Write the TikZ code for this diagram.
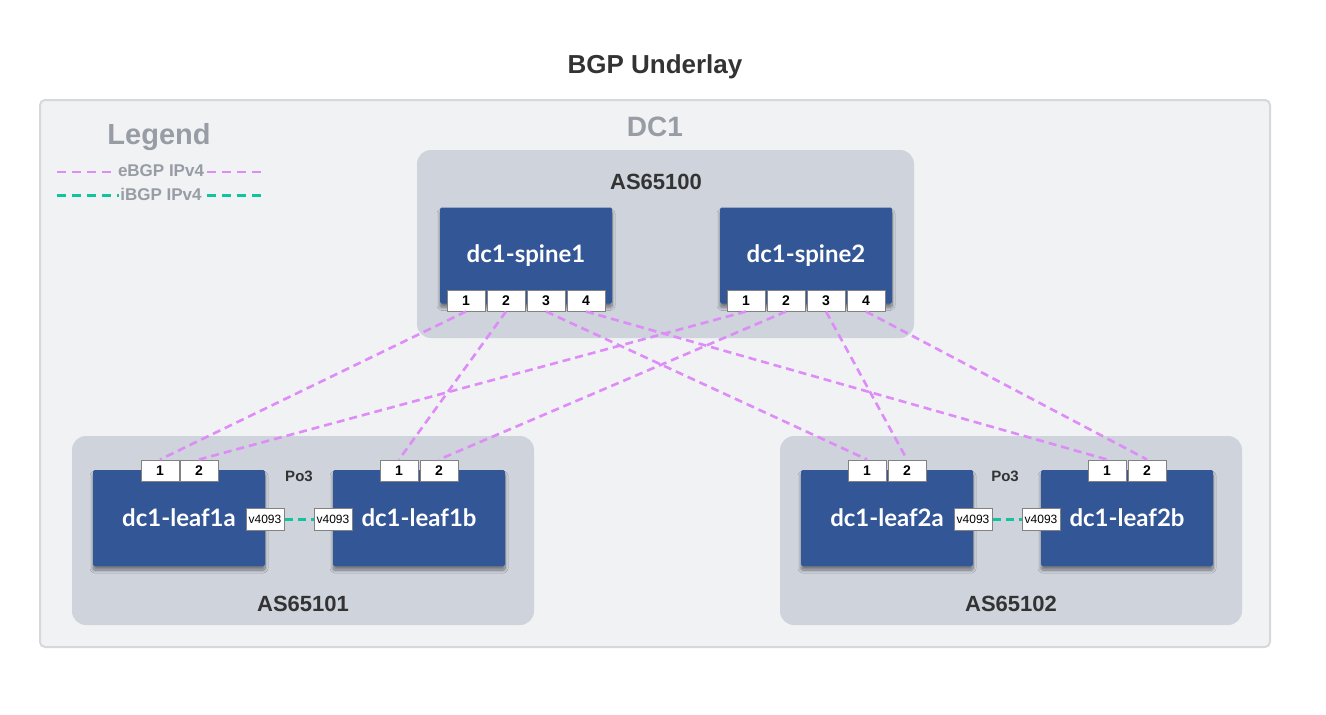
\documentclass[tikz,border=0pt]{standalone}
\usepackage{fontspec}
\setmainfont{Liberation Sans}
\newfontfamily\latofont{Lato}
\usetikzlibrary{shadows.blur}
\definecolor{canvasgray}{RGB}{241,242,244}
\definecolor{framegray}{RGB}{214,216,220}
\definecolor{asgray}{RGB}{206,211,220}
\definecolor{devblue}{RGB}{51,86,150}
\definecolor{portgray}{RGB}{130,130,130}
\definecolor{softgray}{RGB}{151,156,165}
\definecolor{darktext}{RGB}{51,51,51}
\definecolor{ebgpcol}{RGB}{222,140,248}
\definecolor{ibgpcol}{RGB}{16,196,160}

\begin{document}
\begin{tikzpicture}[x=1pt,y=-1pt]
\tikzset{group/.style={fill=asgray,rounded corners=14pt,inner sep=0pt}}
\tikzset{aslabel/.style={text=darktext,font=\bfseries\fontsize{22}{25}\selectfont}}
\tikzset{device/.style={fill=devblue,text=white,font=\latofont\bfseries\fontsize{24}{28}\selectfont,minimum width=172pt,minimum height=96pt,inner sep=0pt,rounded corners=1.5pt,blur shadow={shadow xshift=0pt,shadow yshift=-4pt,shadow opacity=45,shadow blur steps=10,shadow blur radius=3pt}}}
\tikzset{port/.style={draw=portgray,fill=white,line width=1pt,minimum width=38pt,minimum height=21pt,inner sep=0pt,font=\bfseries\fontsize{14}{16}\selectfont}}
\tikzset{vport/.style={port,minimum height=22pt,font=\fontsize{12}{14}\selectfont}}
\tikzset{ebgp/.style={ebgpcol,line width=2.6pt,dash pattern=on 8pt off 5pt}}
\tikzset{ibgp/.style={ibgpcol,line width=3pt,dash pattern=on 8pt off 5pt}}

\useasboundingbox[fill=white] (0,0) rectangle (1326,715);

\node[text=darktext,font=\bfseries\fontsize{26}{30}\selectfont] (title) at (655,67) {BGP Underlay};

% DC1 frame
\node[draw=framegray,line width=2pt,fill=canvasgray,rounded corners=5pt,minimum width=1230pt,minimum height=547pt,inner sep=0pt] (dc1) at (655,373.5) {};
\node[text=softgray,font=\bfseries\fontsize{28}{32}\selectfont] (dc1lbl) at (655,127) {DC1};

% legend
\node[text=softgray,font=\bfseries\fontsize{29}{33}\selectfont] (legend) at (159,137) {Legend};
\coordinate (eb1) at (57,172);
\coordinate (eb2) at (264,172);
\coordinate (ib1) at (57,195);
\coordinate (ib2) at (264,195);
\draw[ebgp,dash pattern=on 9pt off 6pt] (eb1) -- (eb2);
\draw[ibgp,dash pattern=on 9pt off 6pt] (ib1) -- (ib2);
\node[fill=canvasgray,text=softgray,inner sep=1pt,font=\bfseries\fontsize{17}{19}\selectfont] (eblbl) at (161,171) {eBGP IPv4};
\node[fill=canvasgray,text=softgray,inner sep=1pt,font=\bfseries\fontsize{17}{19}\selectfont] (iblbl) at (161,194) {iBGP IPv4};

% AS groups
\node[group,minimum width=497pt,minimum height=188pt] (as65100) at (665.5,244) {};
\node[aslabel] (as65100lbl) at (656,182) {AS65100};
\node[group,minimum width=462pt,minimum height=189pt] (as65101) at (303,530.5) {};
\node[aslabel] (as65101lbl) at (303,604) {AS65101};
\node[group,minimum width=462pt,minimum height=189pt] (as65102) at (1011,530.5) {};
\node[aslabel] (as65102lbl) at (1011,604) {AS65102};

% devices
\node[device] (spine1) at (526,255.5) {dc1-spine1};
\node[device] (spine2) at (806,255.5) {dc1-spine2};
\node[device] (leaf1a) at (179,518) {dc1-leaf1a};
\node[device] (leaf1b) at (419,518) {dc1-leaf1b};
\node[device] (leaf2a) at (887,518) {dc1-leaf2a};
\node[device] (leaf2b) at (1127,518) {dc1-leaf2b};

% ports
\node[port] (s1p1) at (466,300.5) {1};
\node[port] (s1p2) at (506,300.5) {2};
\node[port] (s1p3) at (546,300.5) {3};
\node[port] (s1p4) at (586,300.5) {4};
\node[port] (s2p1) at (746,300.5) {1};
\node[port] (s2p2) at (786,300.5) {2};
\node[port] (s2p3) at (826,300.5) {3};
\node[port] (s2p4) at (866,300.5) {4};
\node[port] (l1ap1) at (160,470.5) {1};
\node[port] (l1ap2) at (199,470.5) {2};
\node[port] (l1bp1) at (399,470.5) {1};
\node[port] (l1bp2) at (439,470.5) {2};
\node[port] (l2ap1) at (867,470.5) {1};
\node[port] (l2ap2) at (907,470.5) {2};
\node[port] (l2bp1) at (1107,470.5) {1};
\node[port] (l2bp2) at (1147,470.5) {2};
\node[vport] (l1av) at (265,519) {v4093};
\node[vport] (l1bv) at (333,519) {v4093};
\node[vport] (l2av) at (973,519) {v4093};
\node[vport] (l2bv) at (1041,519) {v4093};

\node[text=darktext,font=\bfseries\fontsize{15}{17}\selectfont] (po3a) at (299,476) {Po3};
\node[text=darktext,font=\bfseries\fontsize{15}{17}\selectfont] (po3b) at (1005,476) {Po3};

% sessions
\draw[ebgp] (s1p1.south) -- (l1ap1.north);
\draw[ebgp] (s1p2.south) -- (l1bp1.north);
\draw[ebgp] (s1p3.south) -- (l2ap1.north);
\draw[ebgp] (s1p4.south) -- (l2bp1.north);
\draw[ebgp] (s2p1.south) -- (l1ap2.north);
\draw[ebgp] (s2p2.south) -- (l1bp2.north);
\draw[ebgp] (s2p3.south) -- (l2ap2.north);
\draw[ebgp] (s2p4.south) -- (l2bp2.north);
\draw[ibgp] (l1av) -- (l1bv);
\draw[ibgp] (l2av) -- (l2bv);

\end{tikzpicture}
\end{document}
